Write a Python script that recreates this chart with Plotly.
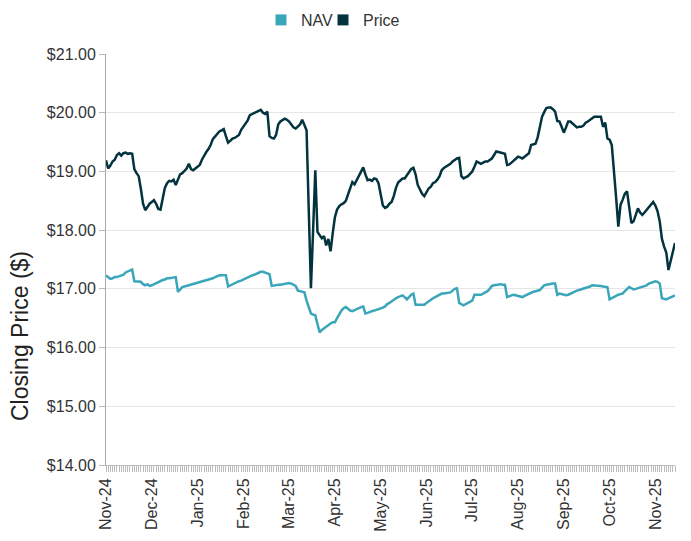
import pandas as pd
import plotly.graph_objects as go

holidays = ["2024-11-28", "2024-12-25", "2025-01-01", "2025-01-09", "2025-01-20",
            "2025-02-17", "2025-04-18", "2025-05-26", "2025-06-19", "2025-07-04",
            "2025-09-01"]
dates = [d.strftime("%Y-%m-%d") for d in
         pd.bdate_range("2024-11-04", periods=262, freq="C", holidays=holidays)]

price = [
    19.19, 19.05, 19.10, 19.17, 19.20, 19.28, 19.31, 19.27, 19.31, 19.32,
    19.30, 19.31, 19.30, 19.04, 18.97, 18.92, 18.70, 18.45, 18.34, 18.40,
    18.45, 18.48, 18.51, 18.45, 18.36, 18.35, 18.55, 18.72, 18.80, 18.84,
    18.83, 18.86, 18.77, 18.85, 18.95, 18.97, 19.02, 19.05, 19.13, 19.04,
    19.02, 19.05, 19.08, 19.11, 19.20, 19.27, 19.33, 19.38, 19.45, 19.55,
    19.59, 19.64, 19.68, 19.70, 19.72, 19.60, 19.49, 19.52, 19.56, 19.57,
    19.59, 19.62, 19.71, 19.76, 19.82, 19.87, 19.96, 19.98, 19.99, 20.01,
    20.03, 20.05, 20.00, 19.98, 20.02, 19.60, 19.57, 19.56, 19.62, 19.80,
    19.85, 19.88, 19.90, 19.88, 19.85, 19.80, 19.75, 19.73, 19.77, 19.80,
    19.88, 19.80, 19.70, 18.35, 17.01, 18.00, 19.02, 17.97, 17.92, 17.86,
    17.90, 17.74, 17.85, 17.64, 17.95, 18.22, 18.35, 18.41, 18.44, 18.46,
    18.50, 18.60, 18.70, 18.82, 18.78, 18.85, 18.92, 18.98, 19.07, 18.95,
    18.85, 18.86, 18.84, 18.88, 18.87, 18.80, 18.60, 18.42, 18.38, 18.40,
    18.45, 18.48, 18.58, 18.72, 18.81, 18.85, 18.88, 18.88, 18.93, 18.99,
    19.04, 19.06, 18.95, 18.77, 18.70, 18.62, 18.58, 18.66, 18.71, 18.74,
    18.80, 18.82, 18.86, 18.92, 19.02, 19.06, 19.08, 19.11, 19.13, 19.17,
    19.20, 19.22, 19.23, 18.92, 18.88, 18.90, 18.92, 18.96, 19.00, 19.08,
    19.17, 19.15, 19.13, 19.15, 19.17, 19.17, 19.20, 19.22, 19.28, 19.34,
    19.33, 19.32, 19.31, 19.30, 19.11, 19.12, 19.15, 19.18, 19.22, 19.25,
    19.24, 19.22, 19.25, 19.28, 19.31, 19.45, 19.46, 19.47, 19.58, 19.75,
    19.93, 20.01, 20.08, 20.09, 20.09, 20.06, 20.02, 19.86, 19.85, 19.76,
    19.66, 19.75, 19.85, 19.85, 19.82, 19.78, 19.75, 19.76, 19.76, 19.78,
    19.83, 19.85, 19.88, 19.90, 19.93, 19.93, 19.93, 19.93, 19.76, 19.83,
    19.56, 19.54, 19.45, 19.05, 18.55, 18.06, 18.43, 18.52, 18.62, 18.66,
    18.40, 18.12, 18.15, 18.25, 18.37, 18.30, 18.26, 18.30, 18.35, 18.40,
    18.44, 18.48, 18.42, 18.32, 18.15, 17.85, 17.72, 17.62, 17.32, 17.49,
    17.65, 17.78,
]

nav = [
    17.23, 17.20, 17.17, 17.18, 17.20, 17.20, 17.21, 17.23, 17.24, 17.28,
    17.30, 17.31, 17.33, 17.13, 17.13, 17.12, 17.12, 17.08, 17.06, 17.08,
    17.05, 17.06, 17.08, 17.09, 17.11, 17.13, 17.15, 17.16, 17.18, 17.18,
    17.19, 17.20, 17.20, 16.95, 16.99, 17.03, 17.04, 17.05, 17.06, 17.07,
    17.08, 17.09, 17.10, 17.11, 17.12, 17.13, 17.14, 17.15, 17.16, 17.18,
    17.20, 17.22, 17.23, 17.23, 17.23, 17.23, 17.04, 17.06, 17.07, 17.09,
    17.11, 17.13, 17.14, 17.16, 17.18, 17.19, 17.21, 17.23, 17.24, 17.26,
    17.28, 17.29, 17.29, 17.28, 17.26, 17.25, 17.05, 17.06, 17.07, 17.07,
    17.07, 17.08, 17.08, 17.09, 17.10, 17.09, 17.07, 17.05, 16.97, 16.96,
    16.95, 16.94, 16.80, 16.68, 16.58, 16.56, 16.55, 16.40, 16.26, 16.30,
    16.33, 16.35, 16.38, 16.41, 16.43, 16.43, 16.50, 16.58, 16.63, 16.67,
    16.69, 16.66, 16.63, 16.62, 16.64, 16.66, 16.68, 16.69, 16.70, 16.58,
    16.59, 16.61, 16.62, 16.63, 16.64, 16.65, 16.66, 16.68, 16.70, 16.74,
    16.76, 16.79, 16.82, 16.84, 16.86, 16.87, 16.89, 16.86, 16.82, 16.86,
    16.90, 16.92, 16.73, 16.73, 16.73, 16.73, 16.73, 16.76, 16.79, 16.82,
    16.84, 16.86, 16.88, 16.91, 16.92, 16.92, 16.93, 16.93, 16.94, 16.97,
    17.00, 17.01, 16.76, 16.74, 16.72, 16.74, 16.76, 16.78, 16.80, 16.90,
    16.90, 16.90, 16.90, 16.92, 16.94, 16.96, 17.00, 17.05, 17.06, 17.07,
    17.07, 17.08, 17.07, 17.07, 16.86, 16.88, 16.89, 16.90, 16.89, 16.88,
    16.87, 16.86, 16.88, 16.90, 16.92, 16.93, 16.95, 16.96, 16.97, 16.98,
    17.02, 17.06, 17.07, 17.08, 17.08, 17.09, 17.09, 16.90, 16.92, 16.91,
    16.90, 16.89, 16.90, 16.92, 16.94, 16.96, 16.97, 16.98, 16.99, 17.00,
    17.01, 17.03, 17.04, 17.06, 17.06, 17.06, 17.05, 17.05, 17.04, 17.03,
    17.03, 16.82, 16.84, 16.86, 16.89, 16.90, 16.91, 16.92, 16.96, 17.00,
    17.03, 17.01, 16.99, 17.00, 17.01, 17.02, 17.03, 17.04, 17.06, 17.09,
    17.10, 17.11, 17.13, 17.12, 17.09, 16.84, 16.83, 16.82, 16.84, 16.86,
    16.88, 16.89,
]

n = min(len(dates), len(price), len(nav))
dates, price, nav = dates[:n], price[:n], nav[:n]

tick_text = [pd.Timestamp(d).strftime("%b-%y") if i % 21 == 0 else "" for i, d in enumerate(dates)]
y_ticks = [14, 15, 16, 17, 18, 19, 20, 21]
y_tick_text = ["$%.2f" % v for v in y_ticks]

NAV_COLOR = "#3AA6B9"
PRICE_COLOR = "#02333E"
FONT = "Liberation Sans, Arial, sans-serif"

W, H = 675, 525
fig = go.Figure()
fig.add_trace(go.Scatter(x=dates, y=nav, mode="lines", name="NAV",
                         line=dict(color=NAV_COLOR, width=2.5), showlegend=False))
fig.add_trace(go.Scatter(x=dates, y=price, mode="lines", name="Price",
                         line=dict(color=PRICE_COLOR, width=2.5), showlegend=False))
for name, col, lg in [("NAV", NAV_COLOR, "legend"), ("Price", PRICE_COLOR, "legend2")]:
    fig.add_trace(go.Scatter(x=[None], y=[None], mode="markers", name=name, legend=lg,
                             marker=dict(symbol="square", size=11, color=col)))

leg_common = dict(orientation="h", xanchor="left", xref="container",
                  y=1 - 12 / H, yanchor="middle", yref="container",
                  font=dict(size=16, color="#333333"), itemwidth=30,
                  bgcolor="rgba(0,0,0,0)")
fig.update_layout(
    width=W, height=H,
    margin=dict(l=98, r=8, t=46, b=68, autoexpand=False),
    paper_bgcolor="white", plot_bgcolor="white",
    font=dict(family=FONT, color="#333333"),
    legend=dict(x=253 / W, **leg_common),
    legend2=dict(x=315 / W, **leg_common),
    showlegend=True,
    annotations=[dict(text="Closing Price ($)", textangle=-90,
                      xref="paper", yref="paper", x=(20 - 106) / 569, y=(465 - 336) / 411,
                      xanchor="center", yanchor="middle", showarrow=False,
                      font=dict(size=23, color="#222222", family=FONT))],
)
fig.update_xaxes(
    type="category", range=[0, n - 1], automargin=False,
    tickmode="array", tickvals=dates, ticktext=tick_text,
    tickangle=-90, tickfont=dict(size=16, color="#333333"),
    ticks="outside", ticklen=6, tickcolor="#bbbbbb", tickwidth=1,
    showline=True, linecolor="#bbbbbb", linewidth=1,
    showgrid=False, zeroline=False,
)
fig.update_yaxes(
    range=[14, 21], automargin=False,
    tickmode="array", tickvals=y_ticks, ticktext=y_tick_text,
    tickfont=dict(size=16, color="#333333"),
    ticks="outside", ticklen=6, tickcolor="#bbbbbb",
    showline=True, linecolor="#aaaaaa", linewidth=1,
    showgrid=True, gridcolor="#e6e6e6", gridwidth=1, zeroline=False,
)
fig.write_html("out.html")
